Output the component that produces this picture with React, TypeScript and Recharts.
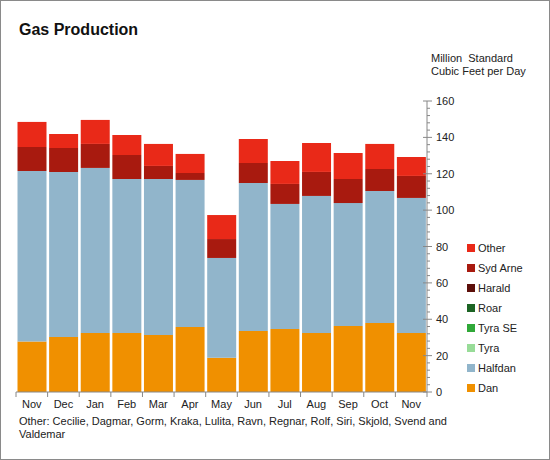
import React from 'react';
import { BarChart, Bar, XAxis, YAxis } from 'recharts';

const months = ['Nov', 'Dec', 'Jan', 'Feb', 'Mar', 'Apr', 'May', 'Jun', 'Jul', 'Aug', 'Sep', 'Oct', 'Nov'];
const dan = [27.7, 30.2, 32.4, 32.4, 31.3, 35.7, 18.9, 33.5, 34.6, 32.4, 36.3, 37.9, 32.4];
const halfdan = [93.8, 90.8, 90.8, 84.7, 85.8, 80.9, 54.8, 81.4, 68.8, 75.4, 67.6, 72.6, 74.3];
const tyra = [0, 0, 0, 0, 0, 0, 0, 0, 0, 0, 0, 0, 0];
const tyraSE = [0, 0, 0, 0, 0, 0, 0, 0, 0, 0, 0, 0, 0];
const roar = [0, 0, 0, 0, 0, 0, 0, 0, 0, 0, 0, 0, 0];
const harald = [0, 0, 0, 0, 0, 0, 0, 0, 0, 0, 0, 0, 0];
const sydArne = [13.2, 13.2, 13.2, 13.2, 7.2, 3.8, 10.4, 11.0, 11.0, 13.2, 13.2, 12.1, 12.1];
const other = [13.8, 7.7, 13.2, 11.0, 12.1, 10.5, 13.2, 13.2, 12.6, 15.9, 14.3, 13.8, 10.4];
const yTicks = Array.from({ length: 41 }, (_, i) => i * 4);

const series = [
  { key: 'dan', name: 'Dan', color: '#f09000', values: dan },
  { key: 'halfdan', name: 'Halfdan', color: '#91b5cb', values: halfdan },
  { key: 'tyra', name: 'Tyra', color: '#98dc98', values: tyra },
  { key: 'tyraSE', name: 'Tyra SE', color: '#30a838', values: tyraSE },
  { key: 'roar', name: 'Roar', color: '#1c6424', values: roar },
  { key: 'harald', name: 'Harald', color: '#5c0f0a', values: harald },
  { key: 'sydArne', name: 'Syd Arne', color: '#a81a0f', values: sydArne },
  { key: 'other', name: 'Other', color: '#e92918', values: other },
];

const data = months.map((m, i) => {
  const row: Record<string, any> = { month: m };
  series.forEach((s) => (row[s.key] = s.values[i]));
  return row;
});

const W = 550;
const H = 460;
const LEFT = 16;
const RIGHT_EDGE = 427;
const BAND = (RIGHT_EDGE - LEFT) / months.length;
const AXIS = '#888';
const FONT = 'Arial, "Liberation Sans", sans-serif';

const XTick = (props: any) => {
  const { x, y, payload, index } = props;
  const left = x - BAND / 2;
  return (
    <g>
      <line x1={left} x2={left} y1={y} y2={y + 5} stroke={AXIS} />
      {index === months.length - 1 && (
        <line x1={x + BAND / 2} x2={x + BAND / 2} y1={y} y2={y + 5} stroke={AXIS} />
      )}
      <text x={x} y={y + 16} textAnchor="middle" fontSize={11} fill="#222" fontFamily={FONT}>
        {payload.value}
      </text>
    </g>
  );
};

const YTick = (props: any) => {
  const { x, y, payload } = props;
  const major = payload.value % 20 === 0;
  return (
    <g>
      {major ? (
        <line x1={x - 4} x2={x + 5} y1={y} y2={y} stroke={AXIS} />
      ) : (
        <line x1={x} x2={x + 3} y1={y} y2={y} stroke={AXIS} />
      )}
      {major && (
        <text x={x + 9} y={y + 4} fontSize={11} fill="#222" fontFamily={FONT}>
          {payload.value}
        </text>
      )}
    </g>
  );
};

const LegendBox = () => (
  <div style={{ position: 'absolute', left: 466, top: 237, fontSize: 11, color: '#222' }}>
    {[...series].reverse().map((s) => (
      <div key={s.key} style={{ display: 'flex', alignItems: 'center', height: 20 }}>
        <span style={{ width: 8, height: 8, background: s.color, marginRight: 3 }} />
        <span>{s.name}</span>
      </div>
    ))}
  </div>
);

export default function App() {
  return (
    <div
      style={{
        position: 'absolute',
        left: 0,
        top: 0,
        width: W,
        height: H,
        boxSizing: 'border-box',
        border: '1px solid #8a8a8a',
        background: '#fff',
        fontFamily: FONT,
      }}
    >
      <div style={{ position: 'absolute', left: 18, top: 20, fontSize: 16, fontWeight: 'bold', color: '#111' }}>
        Gas Production
      </div>
      <div style={{ position: 'absolute', left: 430, top: 51, fontSize: 11, lineHeight: '13px', color: '#222' }}>
        Million&nbsp; Standard
        <br />
        Cubic Feet per Day
      </div>
      <div
        style={{ position: 'absolute', left: 18, top: 414, width: 445, fontSize: 11, lineHeight: '13px', color: '#222' }}
      >
        Other: Cecilie, Dagmar, Gorm, Kraka, Lulita, Ravn, Regnar, Rolf, Siri, Skjold, Svend and Valdemar
      </div>
      <LegendBox />
      <div style={{ position: 'absolute', left: -1, top: -1 }}>
        <BarChart
          width={W}
          height={H}
          data={data}
          margin={{ top: 101, right: 83, left: LEFT, bottom: 48 }}
          barCategoryGap={1.5}
        >
          <XAxis
            dataKey="month"
            height={20}
            stroke={AXIS}
            tickLine={false}
            tickSize={0}
            tickMargin={0}
            tick={<XTick />}
            interval={0}
          />
          <YAxis
            orientation="right"
            width={40}
            domain={[0, 160]}
            ticks={yTicks}
            interval={0}
            stroke={AXIS}
            tickLine={false}
            tickSize={0}
            tickMargin={0}
            tick={<YTick />}
          />
          {series.map((s) => (
            <Bar key={s.key} dataKey={s.key} name={s.name} stackId="a" fill={s.color} isAnimationActive={false} />
          ))}
        </BarChart>
      </div>
    </div>
  );
}
